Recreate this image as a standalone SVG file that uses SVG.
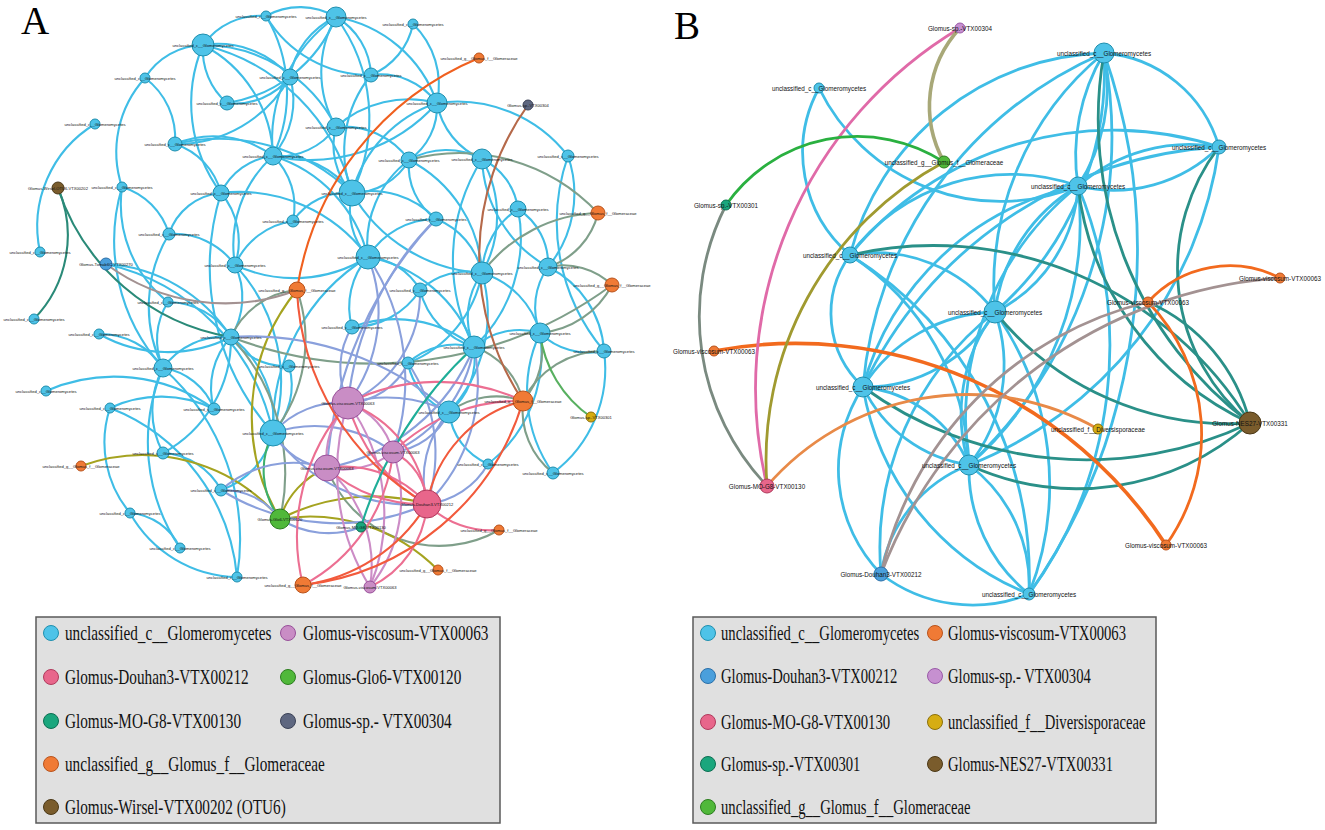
<svg xmlns="http://www.w3.org/2000/svg" width="1325" height="830" viewBox="0 0 1325 830">
<style>
.e{fill:none;stroke-width:2.1}
.f{fill:none;stroke-width:2.8}
.b{stroke:#3fbde6}.go{stroke:#7f9f8a}.gr{stroke:#a39292}.br{stroke:#b5694a}.or{stroke:#f0601f}
.tw{stroke:#2a8a78}.ol{stroke:#a5a320}.gn{stroke:#3cb06c}.gy{stroke:#58b060}.pw{stroke:#8aa0dc}
.pk{stroke:#ec6f92}.pu{stroke:#cc8cc6}.rd{stroke:#f25a3c}.tl{stroke:#1fae98}
.tb2{stroke:#2a9088}.lo{stroke:#e88a48}.pi{stroke:#e06aa8}.og{stroke:#a8a878}.ov{stroke:#a09a30}.gg{stroke:#7a8a80}.gre{stroke:#2ab040}.ob{stroke:#f26a1e}
circle{stroke-width:1}
.cb{fill:#4ec3e8;stroke:#1f8fae}.co{fill:#f07a35;stroke:#b9531c}.cp{fill:#c98dc5;stroke:#98509a}
.ck{fill:#e8668b;stroke:#b03a5c}.cg{fill:#50b83a;stroke:#2c7d1f}.ct{fill:#1aa67d;stroke:#0c6e52}
.cs{fill:#5e6780;stroke:#3b4257}.cw{fill:#7a5c2c;stroke:#4b3816}.cy{fill:#d6ad12;stroke:#8c700a}
.cd{fill:#4a9fdc;stroke:#2a6fa8}.cl{fill:#c690d0;stroke:#9a5aa8}
.ta{font-family:"Liberation Sans",Arial,sans-serif;font-size:4.1px;text-anchor:middle;dominant-baseline:central;fill:#111}
.tb{font-family:"Liberation Sans",Arial,sans-serif;font-size:6.3px;text-anchor:middle;dominant-baseline:central;fill:#111}
.lg{font-family:"Liberation Serif","Times New Roman",serif;font-size:20px;fill:#111}
.pl{font-family:"Liberation Serif","Times New Roman",serif;font-size:39px;fill:#000}
.box{fill:#e0e0e0;stroke:#5a5a5a;stroke-width:1.5}
</style>
<rect width="1325" height="830" fill="#fff"/>
<text class="pl" x="21" y="34">A</text>
<text class="pl" x="674" y="39">B</text>

<g id="edges-A">
<g class="e b">
<path d="M266 16 A70 70 0 0 1 336 17"/><path d="M203 45 A70 70 0 0 1 266 16"/><path d="M266 16 A150 150 0 0 1 273 156"/>
<path d="M371 75 A120 120 0 0 1 266 16"/><path d="M145 78 A70 70 0 0 1 203 45"/><path d="M203 45 A95 95 0 0 1 290 77"/>
<path d="M227 103 A70 70 0 0 1 203 45"/><path d="M203 45 A130 130 0 0 1 273 156"/><path d="M221 193 A150 150 0 0 1 203 45"/>
<path d="M203 45 A150 150 0 0 1 336 127"/><path d="M203 45 A200 200 0 0 1 352 193"/><path d="M290 77 A80 80 0 0 1 336 17"/>
<path d="M336 17 A70 70 0 0 1 371 75"/><path d="M336 17 A130 130 0 0 1 437 103"/><path d="M336 127 A110 110 0 0 1 336 17"/>
<path d="M336 17 A170 170 0 0 1 352 193"/><path d="M273 156 A150 150 0 0 1 336 17"/><path d="M336 17 A140 140 0 0 1 227 103"/>
<path d="M413 24 A70 70 0 0 1 371 75"/><path d="M413 24 A85 85 0 0 1 437 103"/><path d="M145 78 A75 75 0 0 1 175 144"/>
<path d="M122 187 A110 110 0 0 1 145 78"/><path d="M40 252 A120 120 0 0 1 95 124"/><path d="M175 144 A100 100 0 0 1 273 156"/>
<path d="M175 144 A70 70 0 0 1 221 193"/><path d="M290 77 A130 130 0 0 1 175 144"/><path d="M175 144 A190 190 0 0 1 352 193"/>
<path d="M221 193 A65 65 0 0 1 273 156"/><path d="M273 156 A70 70 0 0 1 293 221"/><path d="M336 127 A70 70 0 0 1 273 156"/>
<path d="M273 156 A90 90 0 0 1 352 193"/><path d="M235 265 A120 120 0 0 1 273 156"/><path d="M273 156 A140 140 0 0 1 368 257"/>
<path d="M437 103 A170 170 0 0 1 273 156"/><path d="M122 187 A70 70 0 0 1 169 234"/><path d="M168 302 A125 125 0 0 1 122 187"/>
<path d="M163 368 A190 190 0 0 1 122 187"/><path d="M221 193 A75 75 0 0 1 235 265"/><path d="M169 234 A60 60 0 0 1 221 193"/>
<path d="M221 193 A160 160 0 0 1 368 257"/><path d="M273 433 A250 250 0 0 1 221 193"/><path d="M293 221 A65 65 0 0 1 352 193"/>
<path d="M235 265 A75 75 0 0 1 293 221"/><path d="M163 368 A140 140 0 0 1 169 234"/><path d="M169 234 A75 75 0 0 1 235 265"/>
<path d="M235 265 A75 75 0 0 1 231 337"/><path d="M368 257 A140 140 0 0 1 235 265"/><path d="M235 265 A170 170 0 0 1 273 433"/>
<path d="M163 368 A70 70 0 0 1 168 302"/><path d="M168 302 A75 75 0 0 1 231 337"/><path d="M371 75 A70 70 0 0 1 437 103"/>
<path d="M352 193 A120 120 0 0 1 371 75"/><path d="M336 127 A110 110 0 0 1 437 103"/><path d="M437 103 A65 65 0 0 1 409 160"/>
<path d="M482 159 A75 75 0 0 1 437 103"/><path d="M437 103 A140 140 0 0 1 568 156"/><path d="M352 193 A130 130 0 0 1 437 103"/>
<path d="M352 193 A70 70 0 0 1 336 127"/><path d="M336 127 A80 80 0 0 1 409 160"/><path d="M409 160 A75 75 0 0 1 482 159"/>
<path d="M409 160 A65 65 0 0 1 352 193"/><path d="M368 257 A105 105 0 0 1 409 160"/><path d="M409 160 A135 135 0 0 1 482 273"/>
<path d="M436 219 A65 65 0 0 1 409 160"/><path d="M482 159 A65 65 0 0 1 518 209"/><path d="M548 267 A130 130 0 0 1 482 159"/>
<path d="M482 159 A115 115 0 0 1 482 273"/><path d="M474 347 A190 190 0 0 1 482 159"/><path d="M568 156 A115 115 0 0 1 548 267"/>
<path d="M604 351 A200 200 0 0 1 568 156"/><path d="M368 257 A70 70 0 0 1 352 193"/><path d="M352 193 A90 90 0 0 1 436 219"/>
<path d="M482 273 A160 160 0 0 1 352 193"/><path d="M518 209 A65 65 0 0 1 548 267"/><path d="M518 209 A150 150 0 0 1 474 347"/>
<path d="M482 273 A80 80 0 0 1 518 209"/><path d="M436 219 A75 75 0 0 1 482 273"/><path d="M368 257 A80 80 0 0 1 436 219"/>
<path d="M368 257 A65 65 0 0 1 420 290"/><path d="M273 433 A200 200 0 0 1 368 257"/><path d="M352 327 A75 75 0 0 1 368 257"/>
<path d="M368 257 A140 140 0 0 1 474 347"/><path d="M540 333 A70 70 0 0 1 548 267"/><path d="M548 267 A100 100 0 0 1 604 351"/>
<path d="M474 347 A75 75 0 0 1 482 273"/><path d="M482 273 A85 85 0 0 1 540 333"/><path d="M420 290 A70 70 0 0 1 482 273"/>
<path d="M482 273 A145 145 0 0 1 449 412"/><path d="M420 290 A80 80 0 0 1 352 327"/><path d="M474 347 A80 80 0 0 1 420 290"/>
<path d="M163 368 A75 75 0 0 1 231 337"/><path d="M231 337 A105 105 0 0 1 273 433"/><path d="M289 366 A65 65 0 0 1 231 337"/>
<path d="M214 409 A75 75 0 0 1 231 337"/><path d="M163 368 A65 65 0 0 1 214 409"/><path d="M163 453 A90 90 0 0 1 163 368"/>
<path d="M99 334 A75 75 0 0 1 163 368"/><path d="M163 368 A230 230 0 0 1 237 577"/><path d="M180 548 A190 190 0 0 1 163 368"/>
<path d="M289 366 A70 70 0 0 1 273 433"/><path d="M46 391 A170 170 0 0 1 214 409"/><path d="M130 513 A110 110 0 0 1 110 408"/>
<path d="M110 408 A200 200 0 0 1 237 577"/><path d="M110 408 A120 120 0 0 1 214 409"/><path d="M163 453 A70 70 0 0 1 221 490"/>
<path d="M231 337 A130 130 0 0 1 163 453"/><path d="M273 433 A80 80 0 0 1 221 490"/><path d="M130 513 A60 60 0 0 1 180 548"/>
<path d="M237 577 A125 125 0 0 1 130 513"/><path d="M231 337 A140 140 0 0 1 99 334"/><path d="M352 327 A125 125 0 0 1 474 347"/>
<path d="M474 347 A70 70 0 0 1 540 333"/><path d="M408 363 A70 70 0 0 1 474 347"/><path d="M474 347 A70 70 0 0 1 449 412"/>
<path d="M604 351 A70 70 0 0 1 540 333"/><path d="M540 333 A140 140 0 0 1 488 464"/><path d="M553 473 A140 140 0 0 1 540 333"/>
<path d="M604 351 A130 130 0 0 1 553 473"/><path d="M449 412 A65 65 0 0 1 408 363"/><path d="M488 464 A65 65 0 0 1 449 412"/>
<path d="M482 273 A120 120 0 0 1 408 363"/><path d="M106 264 A160 160 0 0 1 231 337"/><path d="M106 264 A220 220 0 0 1 273 433"/>
<path d="M290 77 A70 70 0 0 1 227 103"/><path d="M290 77 A85 85 0 0 1 273 156"/>
</g>
<g class="e go">
<path d="M409 160 A190 190 0 0 1 598 213"/><path d="M598 213 A75 75 0 0 1 548 267"/><path d="M482 273 A150 150 0 0 1 598 213"/>
<path d="M548 267 A70 70 0 0 1 612 285"/><path d="M612 285 A90 90 0 0 1 540 333"/><path d="M540 333 A75 75 0 0 1 523 401"/>
<path d="M523 401 A90 90 0 0 1 604 351"/><path d="M474 347 A75 75 0 0 1 523 401"/><path d="M449 412 A80 80 0 0 1 523 401"/>
<path d="M297 290 A150 150 0 0 1 273 433"/><path d="M231 337 A80 80 0 0 1 297 290"/><path d="M553 473 A80 80 0 0 1 523 401"/>
<path d="M612 285 A400 400 0 0 1 231 337"/><path d="M231 337 A200 200 0 0 1 280 519"/><path d="M499 530 A120 120 0 0 1 327 468"/>
</g>
<path class="e gy" d="M591 417 A120 120 0 0 1 540 333"/>
<path class="e gr" d="M297 290 A200 200 0 0 1 106 264"/>
<path class="e br" d="M523 401 A260 260 0 0 1 528 105"/>
<path class="e or" d="M297 290 A300 300 0 0 1 479 58"/>
<path class="e tw" d="M58 188 A120 120 0 0 1 34 319"/><path class="e tw" d="M231 337 A220 220 0 0 1 58 188"/>
<g class="e ol">
<path d="M280 519 A200 200 0 0 1 297 290"/><path d="M81 466 A180 180 0 0 1 280 519"/><path d="M280 519 A180 180 0 0 1 438 570"/>
<path d="M280 519 A200 200 0 0 1 427 504"/><path d="M280 519 A80 80 0 0 1 327 468"/>
</g>
<path class="e gn" d="M280 519 A80 80 0 0 1 273 433"/>
<g class="e pw">
<path d="M273 433 A90 90 0 0 1 348 403"/><path d="M327 468 A70 70 0 0 1 273 433"/><path d="M273 433 A130 130 0 0 1 393 452"/>
<path d="M427 504 A170 170 0 0 1 273 433"/><path d="M368 257 A150 150 0 0 1 348 403"/><path d="M327 468 A400 400 0 0 1 436 219"/>
<path d="M348 403 A300 300 0 0 1 436 219"/><path d="M368 257 A220 220 0 0 1 393 452"/><path d="M420 290 A120 120 0 0 1 348 403"/>
<path d="M348 403 A80 80 0 0 1 352 327"/><path d="M474 347 A140 140 0 0 1 393 452"/><path d="M474 347 A200 200 0 0 1 327 468"/>
<path d="M348 403 A140 140 0 0 1 449 412"/><path d="M449 412 A70 70 0 0 1 393 452"/><path d="M427 504 A100 100 0 0 1 449 412"/>
<path d="M408 363 A160 160 0 0 1 427 504"/><path d="M221 490 A110 110 0 0 1 327 468"/><path d="M427 504 A220 220 0 0 1 221 490"/>
<path d="M231 337 A300 300 0 0 1 449 412"/><path d="M221 490 A70 70 0 0 1 280 519"/><path d="M488 464 A80 80 0 0 1 427 504"/>
<path d="M474 347 A170 170 0 0 1 427 504"/><path d="M408 363 A70 70 0 0 1 348 403"/><path d="M361 527 A90 90 0 0 1 280 519"/>
</g>
<g class="e pu">
<path d="M348 403 A190 190 0 0 1 370 587"/><path d="M370 587 A220 220 0 0 1 348 403"/><path d="M393 452 A140 140 0 0 1 370 587"/>
<path d="M327 468 A130 130 0 0 1 370 587"/><path d="M348 403 A70 70 0 0 1 393 452"/><path d="M393 452 A80 80 0 0 1 327 468"/>
<path d="M327 468 A80 80 0 0 1 348 403"/>
</g>
<g class="e pk">
<path d="M348 403 A120 120 0 0 1 427 504"/><path d="M427 504 A160 160 0 0 1 348 403"/><path d="M393 452 A60 60 0 0 1 427 504"/>
<path d="M327 468 A110 110 0 0 1 427 504"/><path d="M427 504 A140 140 0 0 1 327 468"/><path d="M427 504 A100 100 0 0 1 370 587"/>
<path d="M303 585 A200 200 0 0 1 348 403"/><path d="M393 452 A170 170 0 0 1 303 585"/><path d="M348 403 A200 200 0 0 1 523 401"/>
<path d="M393 452 A180 180 0 0 1 523 401"/><path d="M499 530 A90 90 0 0 1 427 504"/>
</g>
<g class="e rd">
<path d="M427 504 A170 170 0 0 1 303 585"/><path d="M427 504 A130 130 0 0 1 523 401"/><path d="M427 504 A260 260 0 0 1 297 290"/>
<path d="M523 401 A260 260 0 0 1 303 585"/>
</g>
<path class="e tl" d="M361 527 A400 400 0 0 1 474 347"/>
</g>

<g id="nodes-A">
<g id="a1"><circle class="cb" cx="266" cy="16" r="5"/><text class="ta" x="266" y="16">unclassified_c__Glomeromycetes</text></g>
<g id="a2"><circle class="cb" cx="203" cy="45" r="11"/><text class="ta" x="203" y="45">unclassified_c__Glomeromycetes</text></g>
<g id="a3"><circle class="cb" cx="145" cy="78" r="5"/><text class="ta" x="145" y="78">unclassified_c__Glomeromycetes</text></g>
<g id="a4"><circle class="cb" cx="290" cy="77" r="8"/><text class="ta" x="290" y="77">unclassified_c__Glomeromycetes</text></g>
<g id="a5"><circle class="cb" cx="227" cy="103" r="7"/><text class="ta" x="227" y="103">unclassified_c__Glomeromycetes</text></g>
<g id="a6"><circle class="cb" cx="95" cy="124" r="5"/><text class="ta" x="95" y="124">unclassified_c__Glomeromycetes</text></g>
<g id="a7"><circle class="cb" cx="175" cy="144" r="7"/><text class="ta" x="175" y="144">unclassified_c__Glomeromycetes</text></g>
<g id="a8"><circle class="cb" cx="273" cy="156" r="9"/><text class="ta" x="273" y="156">unclassified_c__Glomeromycetes</text></g>
<g id="a9"><circle class="cw" cx="58" cy="188" r="6"/><text class="ta" x="58" y="188">Glomus-Wirsel-OTU6-VTX00202</text></g>
<g id="a10"><circle class="cb" cx="122" cy="187" r="5"/><text class="ta" x="122" y="187">unclassified_c__Glomeromycetes</text></g>
<g id="a11"><circle class="cb" cx="221" cy="193" r="8"/><text class="ta" x="221" y="193">unclassified_c__Glomeromycetes</text></g>
<g id="a12"><circle class="cb" cx="293" cy="221" r="6"/><text class="ta" x="293" y="221">unclassified_c__Glomeromycetes</text></g>
<g id="a13"><circle class="cb" cx="169" cy="234" r="6"/><text class="ta" x="169" y="234">unclassified_c__Glomeromycetes</text></g>
<g id="a14"><circle class="cb" cx="40" cy="252" r="5"/><text class="ta" x="40" y="252">unclassified_c__Glomeromycetes</text></g>
<g id="a15"><circle class="cd" cx="106" cy="264" r="6"/><text class="ta" x="106" y="264">Glomus-Tomab6C-VTX00270</text></g>
<g id="a16"><circle class="cb" cx="235" cy="265" r="8"/><text class="ta" x="235" y="265">unclassified_c__Glomeromycetes</text></g>
<g id="a17"><circle class="co" cx="297" cy="290" r="8"/><text class="ta" x="297" y="290">unclassified_g__Glomus_f__Glomeraceae</text></g>
<g id="a18"><circle class="cb" cx="168" cy="302" r="5"/><text class="ta" x="168" y="302">unclassified_c__Glomeromycetes</text></g>
<g id="a19"><circle class="cb" cx="336" cy="17" r="10"/><text class="ta" x="336" y="17">unclassified_c__Glomeromycetes</text></g>
<g id="a20"><circle class="cb" cx="413" cy="24" r="5"/><text class="ta" x="413" y="24">unclassified_c__Glomeromycetes</text></g>
<g id="a21"><circle class="co" cx="479" cy="58" r="5"/><text class="ta" x="479" y="58">unclassified_g__Glomus_f__Glomeraceae</text></g>
<g id="a22"><circle class="cb" cx="371" cy="75" r="7"/><text class="ta" x="371" y="75">unclassified_c__Glomeromycetes</text></g>
<g id="a23"><circle class="cb" cx="437" cy="103" r="10"/><text class="ta" x="437" y="103">unclassified_c__Glomeromycetes</text></g>
<g id="a24"><circle class="cs" cx="528" cy="105" r="5"/><text class="ta" x="528" y="105">Glomus-sp.-VTX00304</text></g>
<g id="a25"><circle class="cb" cx="336" cy="127" r="9"/><text class="ta" x="336" y="127">unclassified_c__Glomeromycetes</text></g>
<g id="a26"><circle class="cb" cx="409" cy="160" r="8"/><text class="ta" x="409" y="160">unclassified_c__Glomeromycetes</text></g>
<g id="a27"><circle class="cb" cx="482" cy="159" r="10"/><text class="ta" x="482" y="159">unclassified_c__Glomeromycetes</text></g>
<g id="a28"><circle class="cb" cx="568" cy="156" r="6"/><text class="ta" x="568" y="156">unclassified_c__Glomeromycetes</text></g>
<g id="a29"><circle class="cb" cx="352" cy="193" r="13"/><text class="ta" x="352" y="193">unclassified_c__Glomeromycetes</text></g>
<g id="a30"><circle class="cb" cx="518" cy="209" r="8"/><text class="ta" x="518" y="209">unclassified_c__Glomeromycetes</text></g>
<g id="a31"><circle class="co" cx="598" cy="213" r="7"/><text class="ta" x="598" y="213">unclassified_g__Glomus_f__Glomeraceae</text></g>
<g id="a32"><circle class="cb" cx="436" cy="219" r="7"/><text class="ta" x="436" y="219">unclassified_c__Glomeromycetes</text></g>
<g id="a33"><circle class="cb" cx="368" cy="257" r="12"/><text class="ta" x="368" y="257">unclassified_c__Glomeromycetes</text></g>
<g id="a34"><circle class="cb" cx="548" cy="267" r="9"/><text class="ta" x="548" y="267">unclassified_c__Glomeromycetes</text></g>
<g id="a35"><circle class="cb" cx="482" cy="273" r="11"/><text class="ta" x="482" y="273">unclassified_c__Glomeromycetes</text></g>
<g id="a36"><circle class="co" cx="612" cy="285" r="7"/><text class="ta" x="612" y="285">unclassified_g__Glomus_f__Glomeraceae</text></g>
<g id="a37"><circle class="cb" cx="420" cy="290" r="7"/><text class="ta" x="420" y="290">unclassified_c__Glomeromycetes</text></g>
<g id="a38"><circle class="cb" cx="34" cy="319" r="5"/><text class="ta" x="34" y="319">unclassified_c__Glomeromycetes</text></g>
<g id="a39"><circle class="cb" cx="99" cy="334" r="5"/><text class="ta" x="99" y="334">unclassified_c__Glomeromycetes</text></g>
<g id="a40"><circle class="cb" cx="231" cy="337" r="8"/><text class="ta" x="231" y="337">unclassified_c__Glomeromycetes</text></g>
<g id="a41"><circle class="cb" cx="163" cy="368" r="9"/><text class="ta" x="163" y="368">unclassified_c__Glomeromycetes</text></g>
<g id="a42"><circle class="cb" cx="289" cy="366" r="6"/><text class="ta" x="289" y="366">unclassified_c__Glomeromycetes</text></g>
<g id="a43"><circle class="cb" cx="46" cy="391" r="5"/><text class="ta" x="46" y="391">unclassified_c__Glomeromycetes</text></g>
<g id="a44"><circle class="cb" cx="110" cy="408" r="5"/><text class="ta" x="110" y="408">unclassified_c__Glomeromycetes</text></g>
<g id="a45"><circle class="cb" cx="214" cy="409" r="6"/><text class="ta" x="214" y="409">unclassified_c__Glomeromycetes</text></g>
<g id="a46"><circle class="cb" cx="273" cy="433" r="13"/><text class="ta" x="273" y="433">unclassified_c__Glomeromycetes</text></g>
<g id="a47"><circle class="cb" cx="163" cy="453" r="6"/><text class="ta" x="163" y="453">unclassified_c__Glomeromycetes</text></g>
<g id="a48"><circle class="co" cx="81" cy="466" r="5"/><text class="ta" x="81" y="466">unclassified_g__Glomus_f__Glomeraceae</text></g>
<g id="a50"><circle class="cb" cx="221" cy="490" r="6"/><text class="ta" x="221" y="490">unclassified_c__Glomeromycetes</text></g>
<g id="a51"><circle class="cb" cx="130" cy="513" r="5"/><text class="ta" x="130" y="513">unclassified_c__Glomeromycetes</text></g>
<g id="a52"><circle class="cg" cx="280" cy="519" r="10"/><text class="ta" x="280" y="519">Glomus-Glo6-VTX00120</text></g>
<g id="a53"><circle class="cb" cx="180" cy="548" r="5"/><text class="ta" x="180" y="548">unclassified_c__Glomeromycetes</text></g>
<g id="a54"><circle class="cb" cx="237" cy="577" r="5"/><text class="ta" x="237" y="577">unclassified_c__Glomeromycetes</text></g>
<g id="a55"><circle class="co" cx="303" cy="585" r="8"/><text class="ta" x="303" y="585">unclassified_g__Glomus_f__Glomeraceae</text></g>
<g id="a56"><circle class="cb" cx="352" cy="327" r="7"/><text class="ta" x="352" y="327">unclassified_c__Glomeromycetes</text></g>
<g id="a57"><circle class="cb" cx="474" cy="347" r="11"/><text class="ta" x="474" y="347">unclassified_c__Glomeromycetes</text></g>
<g id="a58"><circle class="cb" cx="540" cy="333" r="10"/><text class="ta" x="540" y="333">unclassified_c__Glomeromycetes</text></g>
<g id="a59"><circle class="cb" cx="604" cy="351" r="7"/><text class="ta" x="604" y="351">unclassified_c__Glomeromycetes</text></g>
<g id="a60"><circle class="cb" cx="408" cy="363" r="6"/><text class="ta" x="408" y="363">unclassified_c__Glomeromycetes</text></g>
<g id="a61"><circle class="cb" cx="449" cy="412" r="11"/><text class="ta" x="449" y="412">unclassified_c__Glomeromycetes</text></g>
<g id="a62"><circle class="co" cx="523" cy="401" r="10"/><text class="ta" x="523" y="401">unclassified_g__Glomus_f__Glomeraceae</text></g>
<g id="a63"><circle class="cy" cx="591" cy="417" r="5"/><text class="ta" x="591" y="417">Glomus-sp.-VTX00301</text></g>
<g id="a66"><circle class="cb" cx="488" cy="464" r="5"/><text class="ta" x="488" y="464">unclassified_c__Glomeromycetes</text></g>
<g id="a67"><circle class="cb" cx="553" cy="473" r="6"/><text class="ta" x="553" y="473">unclassified_c__Glomeromycetes</text></g>
<g id="a69"><circle class="ct" cx="361" cy="527" r="5"/><text class="ta" x="361" y="527">Glomus-MO-G8-VTX00130</text></g>
<g id="a70"><circle class="co" cx="499" cy="530" r="5"/><text class="ta" x="499" y="530">unclassified_g__Glomus_f__Glomeraceae</text></g>
<g id="a71"><circle class="co" cx="438" cy="570" r="5"/><text class="ta" x="438" y="570">unclassified_g__Glomus_f__Glomeraceae</text></g>
<g id="a72"><circle class="cp" cx="370" cy="587" r="6"/><text class="ta" x="370" y="587">Glomus-viscosum-VTX00063</text></g>
<g id="a49"><circle class="cp" cx="348" cy="403" r="16"/><text class="ta" x="348" y="403">Glomus-viscosum-VTX00063</text></g>
<g id="a64"><circle class="cp" cx="393" cy="452" r="11"/><text class="ta" x="393" y="452">Glomus-viscosum-VTX00063</text></g>
<g id="a65"><circle class="cp" cx="327" cy="468" r="13"/><text class="ta" x="327" y="468">Glomus-viscosum-VTX00063</text></g>
<g id="a68"><circle class="ck" cx="427" cy="504" r="14"/><text class="ta" x="427" y="504">Glomus-Douhan3-VTX00212</text></g>
</g>

<g id="edges-B">
<g class="f b">
<path d="M850 255 A135 135 0 0 1 819 88"/><path d="M1078 186 A202 202 0 0 1 819 88"/><path d="M850 255 A270 270 0 0 1 1104 53"/>
<path d="M850 255 A340 340 0 0 1 1219 147"/><path d="M850 255 A200 200 0 0 1 1078 186"/><path d="M850 255 A150 150 0 0 1 995 312"/>
<path d="M863 387 A100 100 0 0 1 850 255"/><path d="M850 255 A260 260 0 0 1 969 465"/><path d="M881 574 A150 150 0 0 1 863 387"/>
<path d="M881 574 A300 300 0 0 1 995 312"/><path d="M881 574 A140 140 0 0 1 969 465"/><path d="M1029 594 A150 150 0 0 1 881 574"/>
<path d="M1104 53 A180 180 0 0 1 1078 186"/><path d="M1078 186 A200 200 0 0 1 1104 53"/><path d="M995 312 A300 300 0 0 1 1104 53"/>
<path d="M1104 53 A320 320 0 0 1 995 312"/><path d="M863 387 A400 400 0 0 1 1104 53"/><path d="M1104 53 A450 450 0 0 1 969 465"/>
<path d="M1104 53 A600 600 0 0 1 1029 594"/><path d="M1104 53 A130 130 0 0 1 1219 147"/><path d="M1219 147 A150 150 0 0 1 1078 186"/>
<path d="M1078 186 A170 170 0 0 1 1219 147"/><path d="M863 387 A420 420 0 0 1 1219 147"/><path d="M1219 147 A400 400 0 0 1 969 465"/>
<path d="M1078 186 A150 150 0 0 1 995 312"/><path d="M995 312 A170 170 0 0 1 1078 186"/><path d="M863 387 A280 280 0 0 1 1078 186"/>
<path d="M1078 186 A320 320 0 0 1 969 465"/><path d="M969 465 A300 300 0 0 1 1078 186"/><path d="M1078 186 A420 420 0 0 1 1029 594"/>
<path d="M995 312 A150 150 0 0 1 863 387"/><path d="M863 387 A160 160 0 0 1 995 312"/><path d="M995 312 A160 160 0 0 1 969 465"/>
<path d="M969 465 A170 170 0 0 1 995 312"/><path d="M995 312 A300 300 0 0 1 1029 594"/><path d="M863 387 A130 130 0 0 1 969 465"/>
<path d="M969 465 A140 140 0 0 1 863 387"/><path d="M1029 594 A270 270 0 0 1 863 387"/><path d="M969 465 A150 150 0 0 1 1029 594"/>
<path d="M1029 594 A160 160 0 0 1 969 465"/><path d="M850 255 A380 380 0 0 1 1029 594"/>
</g>
<g class="f tb2">
<path d="M850 255 A371 371 0 0 1 1250 423"/><path d="M1250 423 A300 300 0 0 1 995 312"/><path d="M1250 423 A380 380 0 0 1 863 387"/>
<path d="M1250 423 A260 260 0 0 1 969 465"/><path d="M1250 423 A380 380 0 0 1 1104 53"/><path d="M1250 423 A200 200 0 0 1 1219 147"/>
<path d="M1250 423 A300 300 0 0 1 1078 186"/><path d="M1148 302 A180 180 0 0 1 1250 423"/>
</g>
<path class="f ob" d="M1148 302 A110 110 0 0 1 1280 278"/>
<path class="f ob" d="M1148 302 A190 190 0 0 1 1166 545"/>
<path class="f ob" style="stroke-width:3.6" d="M714 351 A441 441 0 0 1 1166 545"/>
<path class="f lo" d="M767 486 A265 265 0 0 1 1098 429"/>
<path class="f gr" d="M881 574 A360 360 0 0 1 1148 302"/>
<path class="f gr" d="M881 574 A460 460 0 0 1 1280 278"/>
<path class="f pi" d="M767 486 A420 420 0 0 1 960 28"/>
<path class="f ov" d="M767 486 A339 339 0 0 1 944 162"/>
<path class="f og" style="stroke-width:3.6" d="M944 162 A115 115 0 0 1 960 28"/>
<path class="f gre" d="M726 205 A160 160 0 0 1 944 162"/>
<path class="f gg" d="M767 486 A246 246 0 0 1 726 205"/>
</g>

<g id="nodes-B">
<g id="b1"><circle class="cl" cx="960" cy="28" r="5"/><text class="tb" x="960" y="28">Glomus-sp.-VTX00304</text></g>
<g id="b2"><circle class="cb" cx="819" cy="88" r="5"/><text class="tb" x="819" y="88">unclassified_c__Glomeromycetes</text></g>
<g id="b3"><circle class="cg" cx="944" cy="162" r="6"/><text class="tb" x="944" y="162">unclassified_g__Glomus_f__Glomeraceae</text></g>
<g id="b4"><circle class="ct" cx="726" cy="205" r="5"/><text class="tb" x="726" y="205">Glomus-sp.-VTX00301</text></g>
<g id="b5"><circle class="cb" cx="850" cy="255" r="8"/><text class="tb" x="850" y="255">unclassified_c__Glomeromycetes</text></g>
<g id="b6"><circle class="cb" cx="1104" cy="53" r="10"/><text class="tb" x="1104" y="53">unclassified_c__Glomeromycetes</text></g>
<g id="b7"><circle class="cb" cx="1219" cy="147" r="7"/><text class="tb" x="1219" y="147">unclassified_c__Glomeromycetes</text></g>
<g id="b8"><circle class="cb" cx="1078" cy="186" r="9"/><text class="tb" x="1078" y="186">unclassified_c__Glomeromycetes</text></g>
<g id="b9"><circle class="cb" cx="995" cy="312" r="11"/><text class="tb" x="995" y="312">unclassified_c__Glomeromycetes</text></g>
<g id="b10"><circle class="cb" cx="863" cy="387" r="10"/><text class="tb" x="863" y="387">unclassified_c__Glomeromycetes</text></g>
<g id="b11"><circle class="cb" cx="969" cy="465" r="10"/><text class="tb" x="969" y="465">unclassified_c__Glomeromycetes</text></g>
<g id="b12"><circle class="co" cx="1148" cy="302" r="5"/><text class="tb" x="1148" y="302">Glomus-viscosum-VTX00063</text></g>
<g id="b13"><circle class="co" cx="1280" cy="278" r="5"/><text class="tb" x="1280" y="278">Glomus-viscosum-VTX00063</text></g>
<g id="b14"><circle class="cw" cx="1250" cy="423" r="11"/><text class="tb" x="1250" y="423">Glomus-NES27-VTX00331</text></g>
<g id="b15"><circle class="cy" cx="1098" cy="429" r="5"/><text class="tb" x="1098" y="429">unclassified_f__Diversisporaceae</text></g>
<g id="b16"><circle class="co" cx="1166" cy="545" r="5"/><text class="tb" x="1166" y="545">Glomus-viscosum-VTX00063</text></g>
<g id="b17"><circle class="cb" cx="1029" cy="594" r="6"/><text class="tb" x="1029" y="594">unclassified_c__Glomeromycetes</text></g>
<g id="b18"><circle class="co" cx="714" cy="351" r="5"/><text class="tb" x="714" y="351">Glomus-viscosum-VTX00063</text></g>
<g id="b19"><circle class="ck" cx="767" cy="486" r="7"/><text class="tb" x="767" y="486">Glomus-MO-G8-VTX00130</text></g>
<g id="b20"><circle class="cd" cx="881" cy="574" r="7"/><text class="tb" x="881" y="574">Glomus-Douhan3-VTX00212</text></g>
</g>

<g id="legend-A">
<rect class="box" x="36" y="617" width="464" height="206"/>
<circle class="cb" cx="51" cy="633" r="7.5"/><text class="lg" transform="translate(65 640) scale(0.763 1)">unclassified_c__Glomeromycetes</text>
<circle class="cp" cx="288" cy="633" r="7.5"/><text class="lg" transform="translate(303 640) scale(0.763 1)">Glomus-viscosum-VTX00063</text>
<circle class="ck" cx="51" cy="677" r="7.5"/><text class="lg" transform="translate(65 684) scale(0.763 1)">Glomus-Douhan3-VTX00212</text>
<circle class="cg" cx="288" cy="677" r="7.5"/><text class="lg" transform="translate(303 684) scale(0.763 1)">Glomus-Glo6-VTX00120</text>
<circle class="ct" cx="51" cy="721" r="7.5"/><text class="lg" transform="translate(65 728) scale(0.763 1)">Glomus-MO-G8-VTX00130</text>
<circle class="cs" cx="288" cy="721" r="7.5"/><text class="lg" transform="translate(303 728) scale(0.763 1)">Glomus-sp.- VTX00304</text>
<circle class="co" cx="51" cy="764" r="7.5"/><text class="lg" transform="translate(65 771) scale(0.763 1)">unclassified_g__Glomus_f__Glomeraceae</text>
<circle class="cw" cx="51" cy="807" r="7.5"/><text class="lg" transform="translate(65 814) scale(0.763 1)">Glomus-Wirsel-VTX00202 (OTU6)</text>
</g>

<g id="legend-B">
<rect class="box" x="693" y="617" width="463" height="206"/>
<circle class="cb" cx="708" cy="633" r="7.5"/><text class="lg" transform="translate(721 640) scale(0.732 1)">unclassified_c__Glomeromycetes</text>
<circle class="co" cx="935" cy="633" r="7.5"/><text class="lg" transform="translate(948 640) scale(0.732 1)">Glomus-viscosum-VTX00063</text>
<circle class="cd" cx="708" cy="676" r="7.5"/><text class="lg" transform="translate(721 683) scale(0.732 1)">Glomus-Douhan3-VTX00212</text>
<circle class="cl" cx="935" cy="676" r="7.5"/><text class="lg" transform="translate(948 683) scale(0.732 1)">Glomus-sp.- VTX00304</text>
<circle class="ck" cx="708" cy="722" r="7.5"/><text class="lg" transform="translate(721 729) scale(0.732 1)">Glomus-MO-G8-VTX00130</text>
<circle class="cy" cx="935" cy="722" r="7.5"/><text class="lg" transform="translate(948 729) scale(0.732 1)">unclassified_f__Diversisporaceae</text>
<circle class="ct" cx="708" cy="764" r="7.5"/><text class="lg" transform="translate(721 771) scale(0.732 1)">Glomus-sp.-VTX00301</text>
<circle class="cw" cx="935" cy="764" r="7.5"/><text class="lg" transform="translate(948 771) scale(0.732 1)">Glomus-NES27-VTX00331</text>
<circle class="cg" cx="708" cy="807" r="7.5"/><text class="lg" transform="translate(721 814) scale(0.732 1)">unclassified_g__Glomus_f__Glomeraceae</text>
</g>
</svg>
